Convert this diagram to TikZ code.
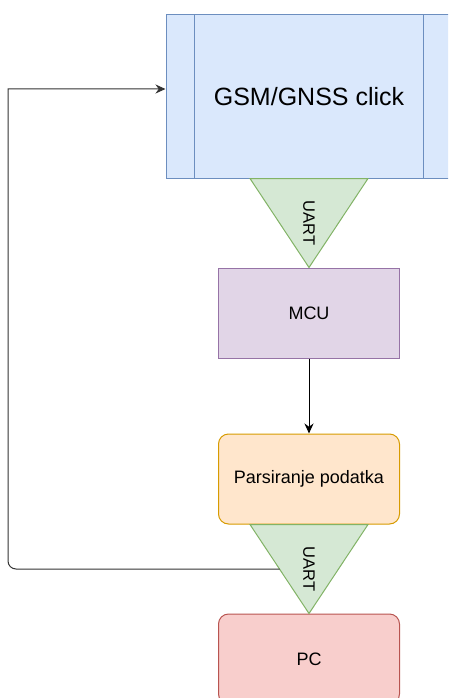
\documentclass[tikz,border=0pt]{standalone}
\usepackage{fontspec}
\setmainfont{Liberation Sans}
\usetikzlibrary{positioning,arrows.meta,calc}

\definecolor{gsmfill}{HTML}{DAE8FC}
\definecolor{gsmline}{HTML}{6C8EBF}
\definecolor{uartfill}{HTML}{D5E8D4}
\definecolor{uartline}{HTML}{82B366}
\definecolor{mcufill}{HTML}{E1D5E7}
\definecolor{mculine}{HTML}{9673A6}
\definecolor{parsefill}{HTML}{FFE6CC}
\definecolor{parseline}{HTML}{D79B00}
\definecolor{pcfill}{HTML}{F8CECC}
\definecolor{pcline}{HTML}{B85450}

\begin{document}
\begin{tikzpicture}[
    x=1pt, y=-1pt,
    node distance=89pt,
    box/.style={rectangle, draw, line width=1pt, minimum width=181pt, minimum height=90pt, align=center, inner sep=0pt, font=\fontsize{18}{21}\selectfont},
    tri/.style={draw=uartline, fill=uartfill, line width=1pt, line join=miter},
    lbl/.style={rotate=-90, inner sep=0pt, font=\fontsize{16.5}{19}\selectfont},
    arrow/.style={-{Stealth[length=10pt,width=9pt]}, line width=1pt}
]
    \clip (0,0) rectangle (448,698);

    \node[box, draw=gsmline, fill=gsmfill, minimum width=286pt, minimum height=163pt, font=\fontsize{25}{30}\selectfont] (gsm) at (309,96.5) {GSM/GNSS click};
    \draw[gsmline, line width=1pt] ([xshift=29pt]gsm.north west) -- ([xshift=29pt]gsm.south west);
    \draw[gsmline, line width=1pt] ([xshift=-29pt]gsm.north east) -- ([xshift=-29pt]gsm.south east);

    \node[box, draw=mculine, fill=mcufill, below=of gsm] (mcu) {MCU};
    \node[box, draw=parseline, fill=parsefill, rounded corners=10pt, below=75pt of mcu] (parse) {Parsiranje podatka};
    \node[box, draw=pcline, fill=pcfill, rounded corners=10pt, below=of parse] (pc) {PC};

    % UART triangles
    \draw[tri] ([xshift=-59pt]gsm.south) -- ([xshift=59pt]gsm.south) -- (mcu.north) -- cycle;
    \node[lbl] (uartA) at ($(gsm.south)!0.5!(mcu.north)$) {UART};
    \coordinate (uartBleft) at ([xshift=-59pt]parse.south);
    \draw[tri] (uartBleft) -- ([xshift=59pt]parse.south) -- (pc.north) -- cycle;
    \node[lbl] (uartB) at ($(parse.south)!0.5!(pc.north)$) {UART};

    \draw[arrow] (mcu) -- (parse);

    % feedback to the module
    \coordinate (loopstart) at ($(uartBleft)!0.5!(pc.north)$);
    \coordinate (looptop) at (8,89);
    \draw[arrow, draw=black!80] (loopstart) [rounded corners=8pt] -- (loopstart -| looptop) [sharp corners] -- (looptop) -- (looptop -| gsm.west);
\end{tikzpicture}
\end{document}
